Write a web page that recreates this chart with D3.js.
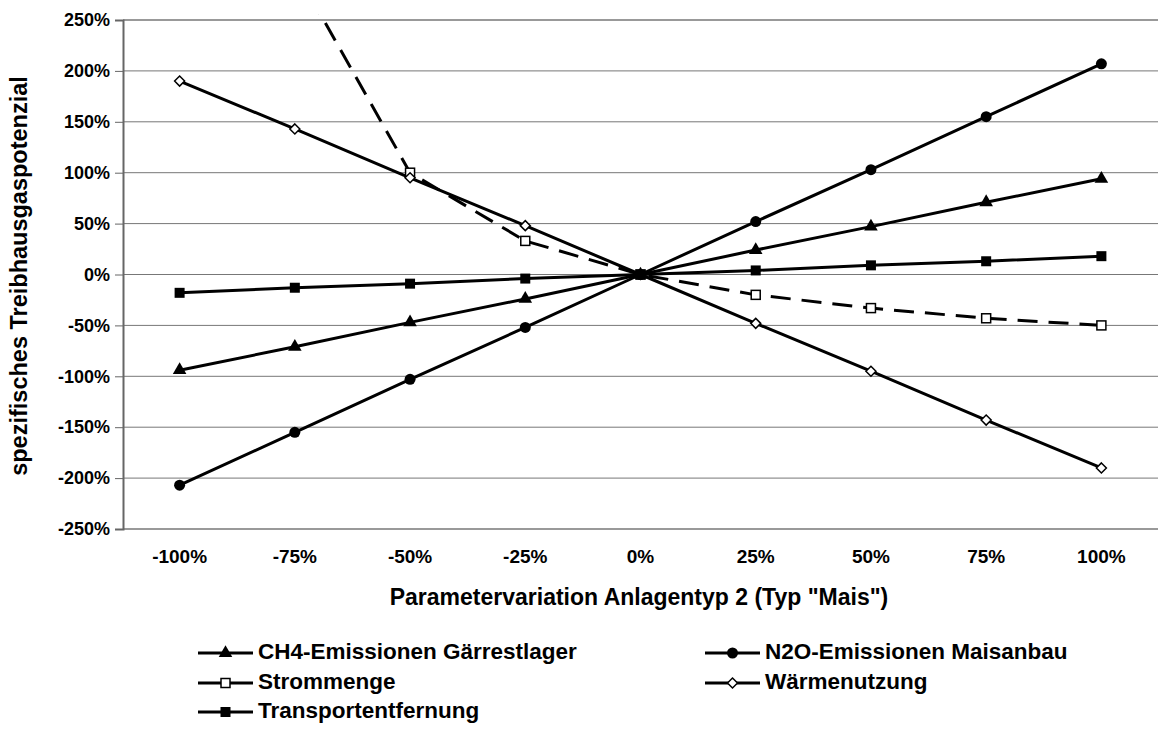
<!DOCTYPE html>
<html>
<head>
<meta charset="utf-8">
<script src="https://cdn.jsdelivr.net/npm/d3@7"></script>
<style>
  body { margin: 0; background: #fff; }
  text { font-family: "Liberation Sans", Arial, sans-serif; font-weight: bold; fill: #000; }
</style>
</head>
<body>
<script>
let categories = ["-100%","-75%","-50%","-25%","0%","25%","50%","75%","100%"];
let yTicks = [250,200,150,100,50,0,-50,-100,-150,-200,-250];

let ch4 = [-94,-71,-47,-24,0,24,47,71,94];
let n2o = [-207,-155,-103,-52,0,52,103,155,207];
let strom = [null,300,100,33,0,-20,-33,-43,-50];
let waerme = [190,143,95,48,0,-48,-95,-143,-190];
let transport = [-18,-13,-9,-4,0,4,9,13,18];

let seriesNames = ["CH4-Emissionen Gärrestlager","N2O-Emissionen Maisanbau","Strommenge","Wärmenutzung","Transportentfernung"];
let seriesData = [ch4, n2o, strom, waerme, transport];
let seriesMarker = ["triangle","circle","squareOpen","diamondOpen","square"];
let seriesDash = [null,null,"20,11",null,null];

let W = 1158, H = 735;
let mLeft = 123, mRight = 1159, mTop = 20, mBottom = 529;

let svg = d3.select("body").append("svg").attr("width",W).attr("height",H);

let x = d3.scaleBand().domain(categories).range([mLeft-1,mRight]);
let y = d3.scaleLinear().domain([-250,250]).range([mBottom,mTop]);

// gridlines
svg.selectAll("line.grid")
      .data(yTicks)
      .enter().append("line")
                .attr("class","grid")
                .attr("x1",mLeft)
                .attr("x2",W)
                .attr("y1",d=>y(d))
                .attr("y2",d=>y(d))
                .attr("stroke",d=>(d==250||d==-250) ? "#999" : "#777")
                .attr("stroke-width",d=>(d==250||d==-250) ? 2 : 1);

// y axis
let yAxis = d3.axisLeft(y).tickValues(yTicks).tickSize(8).tickFormat(d=>d+"%");
let gy = svg.append("g").attr("transform",`translate(${mLeft},0)`).call(yAxis);
gy.select(".domain").attr("stroke","#666").attr("stroke-width",2);
gy.selectAll(".tick line").attr("stroke","#666");
gy.selectAll(".tick text").attr("x",-13).attr("font-size",18).attr("font-family","Liberation Sans, Arial").attr("font-weight","bold").attr("fill","#000");

// x labels
svg.selectAll("text.xlab")
      .data(categories)
      .enter().append("text")
                .attr("class","xlab")
                .attr("x",d=>x(d)+x.bandwidth()/2)
                .attr("y",558)
                .attr("font-size",19)
                .attr("text-anchor","middle")
                .attr("dominant-baseline","middle")
                .text(d=>d);

svg.append("text")
      .attr("x",639)
      .attr("y",599)
      .attr("font-size",23)
      .attr("text-anchor","middle")
      .attr("dominant-baseline","middle")
      .text('Parametervariation Anlagentyp 2 (Typ "Mais")');

svg.append("text")
      .attr("transform","translate(21,276) rotate(-90)")
      .attr("font-size",23.5)
      .attr("text-anchor","middle")
      .attr("dominant-baseline","middle")
      .text("spezifisches Treibhausgaspotenzial");

svg.append("clipPath").attr("id","clip")
      .append("rect").attr("x",mLeft).attr("y",14).attr("width",W-mLeft).attr("height",mBottom-14+6);

let line = d3.line()
      .defined(d=>d!=null)
      .x((d,i)=>x(categories[i])+x.bandwidth()/2)
      .y(d=>y(d));

function drawMarker(g, type, cx, cy) {
  if (type=="circle") {
    g.append("circle").attr("cx",cx).attr("cy",cy).attr("r",5.5).attr("fill","#000");
  } else if (type=="triangle") {
    g.append("path").attr("d",d3.symbol(d3.symbolTriangle,80)()).attr("transform",`translate(${cx},${cy})`).attr("fill","#000");
  } else if (type=="square") {
    g.append("rect").attr("x",cx-5).attr("y",cy-5).attr("width",10).attr("height",10).attr("fill","#000");
  } else if (type=="squareOpen") {
    g.append("rect").attr("x",cx-4.5).attr("y",cy-4.5).attr("width",9).attr("height",9).attr("fill","#fff").attr("stroke","#000").attr("stroke-width",1.5);
  } else if (type=="diamondOpen") {
    g.append("path").attr("d",`M${cx},${cy-5}L${cx+5},${cy}L${cx},${cy+5}L${cx-5},${cy}Z`).attr("fill","#fff").attr("stroke","#000").attr("stroke-width",1.5);
  }
}

let plot = svg.append("g").attr("clip-path","url(#clip)");
seriesData.forEach((data,s)=>{
  plot.append("path")
        .attr("d",line(data))
        .attr("fill","none")
        .attr("stroke","#000")
        .attr("stroke-width",3)
        .attr("stroke-dasharray",seriesDash[s]);
});
seriesData.forEach((data,s)=>{
  data.forEach((d,i)=>{
    if (d==null || d>250) return;
    drawMarker(plot, seriesMarker[s], x(categories[i])+x.bandwidth()/2, y(d));
  });
});

// legend
let legendPos = [[198,653],[705,653],[198,683],[705,683],[198,712]];
seriesNames.forEach((name,s)=>{
  let lx = legendPos[s][0], ly = legendPos[s][1];
  let g = svg.append("g");
  g.append("line").attr("x1",lx).attr("x2",lx+55).attr("y1",ly).attr("y2",ly)
        .attr("stroke","#000").attr("stroke-width",3);
  drawMarker(g, seriesMarker[s], lx+27.5, ly);
  g.append("text").attr("x",lx+60).attr("y",ly).attr("font-size",22.5)
        .attr("dominant-baseline","middle").text(name);
});
</script>
</body>
</html>
